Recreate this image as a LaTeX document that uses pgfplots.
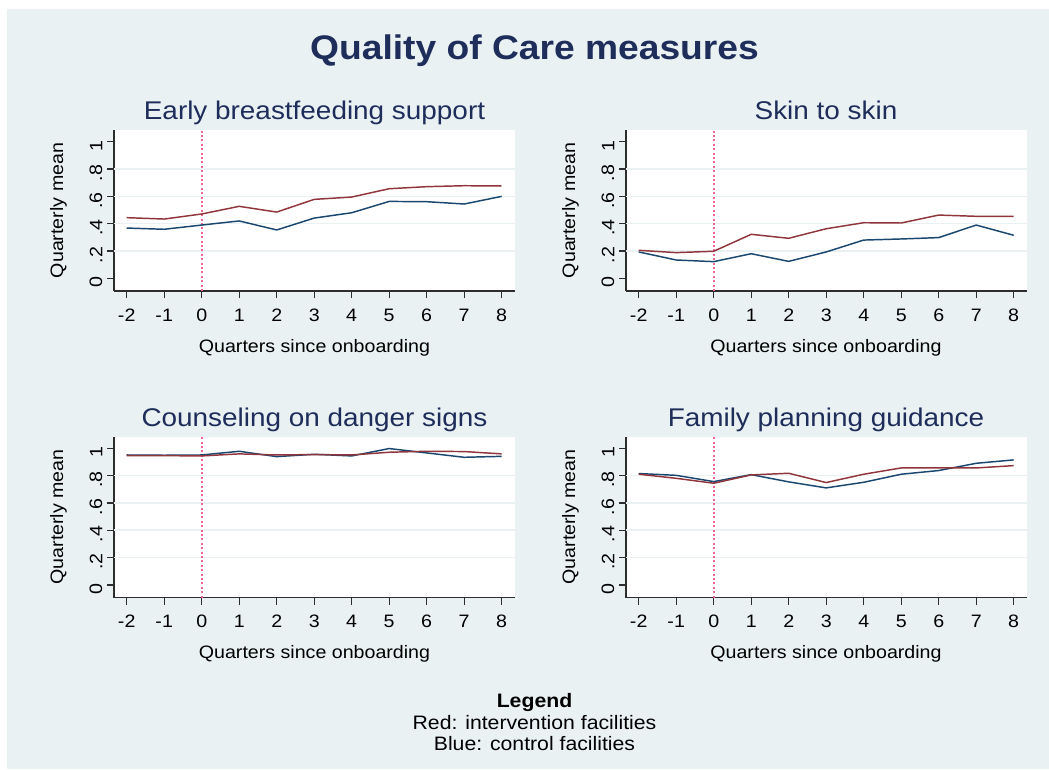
\documentclass[border=0pt]{standalone}
\usepackage{pgfplots}
\pgfplotsset{compat=1.18}
\usepackage{fontspec}
\setmainfont{Liberation Sans}
\definecolor{bg}{RGB}{234,241,243}
\definecolor{ttl}{RGB}{30,45,90}
\definecolor{cblue}{RGB}{26,71,111}
\definecolor{cred}{RGB}{144,53,59}
\definecolor{axc}{RGB}{45,45,45}
\newcommand{\hs}[1]{\scalebox{1.09}[1]{#1}}
\pgfplotsset{qc/.style={
  scale only axis, width=300.75pt, height=120.75pt,
  xmin=-2.339, xmax=8.355, ymin=-0.093, ymax=1.086,
  axis x line*=bottom, axis y line*=left,
  axis line style={axc, line width=1pt},
  tick align=outside, major tick length=5.25pt,
  tick style={axc, line width=1pt},
  xtick={-2,-1,0,1,2,3,4,5,6,7,8},
  xticklabels={\hs{-2},\hs{-1},\hs{0},\hs{1},\hs{2},\hs{3},\hs{4},\hs{5},\hs{6},\hs{7},\hs{8}},
  ytick={0,0.2,0.4,0.6,0.8,1},
  yticklabels={\hs{0},\hs{.2},\hs{.4},\hs{.6},\hs{.8},\hs{1}},
  yticklabel style={rotate=90, anchor=south, xshift=-3pt},
  xticklabel style={yshift=-4.5pt},
  ticklabel style={font=\fontsize{13.5}{16}\selectfont, text=black},
  extra y ticks={0.2,0.4,0.6,0.8}, extra y tick labels={},
  extra y tick style={major tick length=0pt, ymajorgrids=true, grid style={bg, line width=1.1pt}},
  axis background/.style={fill=white},
  anchor=south west,
}}
\pgfplotsset{zline/.style={draw={rgb,255:red,240;green,100;blue,150}, line width=1.5pt, dash pattern=on 1.5pt off 1.8pt, forget plot}}
\begin{document}
\begin{tikzpicture}[x=0.75pt,y=0.75pt]
\fill[bg] (0,0) rectangle (1049,769);
\fill[white] (0,0) rectangle (7,769);
\fill[white] (0,760) rectangle (1049,769);
\useasboundingbox (0,0) rectangle (1049,769);

% Panel 1
\begin{axis}[qc, at={(85.5pt,358.5pt)}]
\addplot[zline] coordinates {(0,-0.093) (0,1.086)};
\addplot[color=cblue, line width=1.1pt] coordinates {(-2,0.368) (-1,0.359) (0,0.390) (1,0.420) (2,0.354) (3,0.441) (4,0.480) (5,0.563) (6,0.561) (7,0.544) (8,0.600)};
\addplot[color=cred, line width=1.1pt] coordinates {(-2,0.444) (-1,0.434) (0,0.471) (1,0.527) (2,0.485) (3,0.578) (4,0.595) (5,0.656) (6,0.671) (7,0.678) (8,0.676)};
\end{axis}

% Panel 2
\begin{axis}[qc, at={(469.5pt,358.5pt)}]
\addplot[zline] coordinates {(0,-0.093) (0,1.086)};
\addplot[color=cblue, line width=1.1pt] coordinates {(-2,0.193) (-1,0.134) (0,0.122) (1,0.180) (2,0.124) (3,0.193) (4,0.280) (5,0.288) (6,0.298) (7,0.390) (8,0.315)};
\addplot[color=cred, line width=1.1pt] coordinates {(-2,0.205) (-1,0.188) (0,0.198) (1,0.322) (2,0.293) (3,0.363) (4,0.407) (5,0.405) (6,0.463) (7,0.454) (8,0.454)};
\end{axis}

% Panel 3
\begin{axis}[qc, at={(85.5pt,128.6pt)}]
\addplot[zline] coordinates {(0,-0.093) (0,1.086)};
\addplot[color=cblue, line width=1.1pt] coordinates {(-2,0.951) (-1,0.949) (0,0.951) (1,0.978) (2,0.939) (3,0.956) (4,0.944) (5,0.998) (6,0.966) (7,0.934) (8,0.941)};
\addplot[color=cred, line width=1.1pt] coordinates {(-2,0.946) (-1,0.946) (0,0.944) (1,0.959) (2,0.951) (3,0.954) (4,0.951) (5,0.971) (6,0.978) (7,0.976) (8,0.959)};
\end{axis}

% Panel 4
\begin{axis}[qc, at={(469.5pt,128.6pt)}]
\addplot[zline] coordinates {(0,-0.093) (0,1.086)};
\addplot[color=cblue, line width=1.1pt] coordinates {(-2,0.815) (-1,0.802) (0,0.756) (1,0.807) (2,0.754) (3,0.710) (4,0.751) (5,0.810) (6,0.837) (7,0.890) (8,0.915)};
\addplot[color=cred, line width=1.1pt] coordinates {(-2,0.810) (-1,0.780) (0,0.744) (1,0.805) (2,0.817) (3,0.749) (4,0.810) (5,0.856) (6,0.856) (7,0.856) (8,0.873)};
\end{axis}

% Titles
\node[anchor=base, text=ttl, font=\fontsize{25.6}{30}\selectfont\bfseries] at (534.5,709.7) {\hs{Quality of Care measures}};
\begin{scope}[every node/.style={anchor=base, text=ttl, font=\fontsize{19.2}{23}\selectfont}]
\node at (314.5,649.7) {\hs{Early breastfeeding support}};
\node at (826,649.7) {\hs{Skin to skin}};
\node at (314.5,343) {\hs{Counseling on danger signs}};
\node at (826,343) {\hs{Family planning guidance}};
\end{scope}
\begin{scope}[every node/.style={anchor=base, font=\fontsize{13.5}{16}\selectfont}]
\node at (314.5,417) {\hs{Quarters since onboarding}};
\node at (826,417) {\hs{Quarters since onboarding}};
\node at (314.5,110.3) {\hs{Quarters since onboarding}};
\node at (826,110.3) {\hs{Quarters since onboarding}};
\node[rotate=90] at (63,558.5) {\hs{Quarterly mean}};
\node[rotate=90] at (575,558.5) {\hs{Quarterly mean}};
\node[rotate=90] at (63,252) {\hs{Quarterly mean}};
\node[rotate=90] at (575,252) {\hs{Quarterly mean}};
\end{scope}
% Legend note
\begin{scope}[every node/.style={anchor=base, font=\fontsize{14.6}{17}\selectfont}]
\node[font=\fontsize{14.6}{17}\selectfont\bfseries] at (534.5,61.7) {\hs{Legend}};
\node at (534.5,40) {\hs{Red: intervention facilities}};
\node at (534.5,19) {\hs{Blue: control facilities}};
\end{scope}
\end{tikzpicture}
\end{document}
